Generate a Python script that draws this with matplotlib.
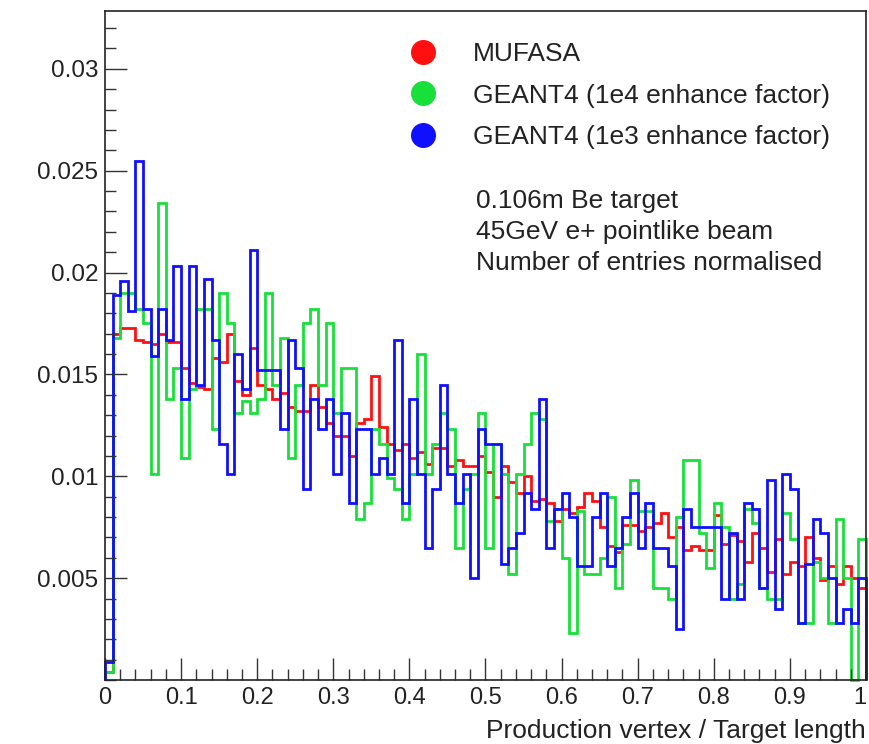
import numpy as np
import matplotlib
matplotlib.use("Agg")
import matplotlib.pyplot as plt
from matplotlib.lines import Line2D
from matplotlib.ticker import MultipleLocator, FixedLocator

# ---------------- data (100 bins on [0, 1]) ----------------
bin_edges = np.linspace(0.0, 1.0, 101)

mufasa = [
    0.0004, 0.0170, 0.0173, 0.0173, 0.0167, 0.0166, 0.0165, 0.0170, 0.0166, 0.0166,
    0.0153, 0.0146, 0.0144, 0.0143, 0.0158, 0.0156, 0.0170, 0.0147, 0.0140, 0.0163,
    0.0145, 0.0143, 0.0138, 0.0141, 0.0134, 0.0132, 0.0132, 0.0145, 0.0134, 0.0126,
    0.0120, 0.0120, 0.0110, 0.0126, 0.0128, 0.0149, 0.0124, 0.0116, 0.0113, 0.0116,
    0.0109, 0.0112, 0.0106, 0.0114, 0.0114, 0.0105, 0.0108, 0.0105, 0.0105, 0.0110,
    0.0102, 0.0090, 0.0105, 0.0097, 0.0092, 0.0100, 0.0088, 0.0089, 0.0087, 0.0078,
    0.0084, 0.0082, 0.0085, 0.0092, 0.0088, 0.0075, 0.0066, 0.0063, 0.0076, 0.0076,
    0.0073, 0.0075, 0.0077, 0.0082, 0.0070, 0.0075, 0.0064, 0.0066, 0.0064, 0.0064,
    0.0081, 0.0067, 0.0071, 0.0068, 0.0058, 0.0072, 0.0065, 0.0053, 0.0069, 0.0052,
    0.0058, 0.0056, 0.0070, 0.0060, 0.0049, 0.0056, 0.0047, 0.0056, 0.0050, 0.0045,
]

geant4_1e4 = [
    0.0004, 0.0168, 0.0190, 0.0190, 0.0182, 0.0175, 0.0101, 0.0234, 0.0138, 0.0153,
    0.0109, 0.0143, 0.0182, 0.0182, 0.0123, 0.0190, 0.0175, 0.0131, 0.0137, 0.0131,
    0.0138, 0.0190, 0.0145, 0.0168, 0.0109, 0.0145, 0.0175, 0.0182, 0.0145, 0.0175,
    0.0131, 0.0153, 0.0153, 0.0079, 0.0087, 0.0123, 0.0116, 0.0099, 0.0094, 0.0079,
    0.0101, 0.0160, 0.0101, 0.0116, 0.0131, 0.0123, 0.0065, 0.0094, 0.0101, 0.0131,
    0.0065, 0.0116, 0.0101, 0.0052, 0.0101, 0.0116, 0.0131, 0.0128, 0.0078, 0.0084,
    0.0060, 0.0023, 0.0083, 0.0052, 0.0052, 0.0060, 0.0090, 0.0045, 0.0067, 0.0098,
    0.0083, 0.0083, 0.0045, 0.0045, 0.0040, 0.0080, 0.0108, 0.0108, 0.0072, 0.0055,
    0.0087, 0.0075, 0.0040, 0.0047, 0.0084, 0.0077, 0.0045, 0.0040, 0.0040, 0.0082,
    0.0069, 0.0028, 0.0028, 0.0058, 0.0050, 0.0028, 0.0079, 0.0050, 0.0000, 0.0069,
]

geant4_1e3 = [
    0.0009, 0.0189, 0.0196, 0.0181, 0.0255, 0.0182, 0.0159, 0.0182, 0.0167, 0.0203,
    0.0138, 0.0203, 0.0145, 0.0197, 0.0167, 0.0116, 0.0101, 0.0160, 0.0143, 0.0211,
    0.0152, 0.0152, 0.0152, 0.0123, 0.0167, 0.0153, 0.0094, 0.0138, 0.0123, 0.0138,
    0.0101, 0.0131, 0.0087, 0.0123, 0.0123, 0.0101, 0.0109, 0.0101, 0.0167, 0.0087,
    0.0138, 0.0101, 0.0065, 0.0094, 0.0145, 0.0101, 0.0087, 0.0101, 0.0050, 0.0123,
    0.0116, 0.0116, 0.0057, 0.0065, 0.0072, 0.0092, 0.0084, 0.0138, 0.0065, 0.0084,
    0.0092, 0.0080, 0.0056, 0.0056, 0.0080, 0.0092, 0.0056, 0.0065, 0.0080, 0.0092,
    0.0065, 0.0087, 0.0065, 0.0065, 0.0056, 0.0025, 0.0084, 0.0075, 0.0075, 0.0075,
    0.0075, 0.0040, 0.0072, 0.0040, 0.0087, 0.0084, 0.0045, 0.0098, 0.0035, 0.0101,
    0.0094, 0.0028, 0.0057, 0.0079, 0.0072, 0.0050, 0.0028, 0.0035, 0.0028, 0.0050,
]

series_labels = ["MUFASA", "GEANT4 (1e4 enhance factor)", "GEANT4 (1e3 enhance factor)"]
series_colors = ["#ff1010", "#18e03a", "#1010ff"]

x_ticks = [0, 0.1, 0.2, 0.3, 0.4, 0.5, 0.6, 0.7, 0.8, 0.9, 1]
x_ticklabels = ["0", "0.1", "0.2", "0.3", "0.4", "0.5", "0.6", "0.7", "0.8", "0.9", "1"]
y_ticks = [0.005, 0.01, 0.015, 0.02, 0.025, 0.03]
y_ticklabels = ["0.005", "0.01", "0.015", "0.02", "0.025", "0.03"]

info_lines = ["0.106m Be target", "45GeV e+ pointlike beam", "Number of entries normalised"]
x_title = "Production vertex / Target length"

# ---------------- figure ----------------
W, H = 870, 744
fig = plt.figure(figsize=(W / 100, H / 100), dpi=100)
fig.patch.set_facecolor("white")

left, right, top, bottom = 105, 866.0, 11, 680
ax = fig.add_axes([left / W, 1 - bottom / H, (right - left) / W, (bottom - top) / H])

FONT = ["Liberation Sans", "DejaVu Sans"]

for vals, col in zip([mufasa, geant4_1e4, geant4_1e3], series_colors):
    ax.stairs(vals, bin_edges, baseline=0, color=col, linewidth=2.0, clip_on=False)

ax.set_xlim(0, 1)
ax.set_ylim(0, 0.03284)

for s in ax.spines.values():
    s.set_linewidth(1.2)
    s.set_color("#222222")

ax.xaxis.set_major_locator(FixedLocator(x_ticks))
ax.xaxis.set_minor_locator(MultipleLocator(0.02))
ax.yaxis.set_major_locator(FixedLocator(y_ticks))
ax.yaxis.set_minor_locator(MultipleLocator(0.001))
ax.set_xticklabels(x_ticklabels, fontfamily=FONT, fontsize=17, color="#222222")
ax.set_yticklabels(y_ticklabels, fontfamily=FONT, fontsize=17.5, color="#222222")
# keep the last x label inside the canvas
xt = ax.get_xticklabels()
xt[-1].set_horizontalalignment("right")

ax.tick_params(axis="both", which="major", direction="in", length=16, width=1.0,
               color="#333333", top=False, right=False)
ax.tick_params(axis="both", which="minor", direction="in", length=8, width=1.0,
               color="#333333", top=False, right=False)
ax.tick_params(axis="x", which="major", pad=5)
ax.tick_params(axis="y", which="major", pad=5)

ax.set_xlabel(x_title, fontfamily=FONT, fontsize=19, color="#222222",
              loc="right", labelpad=7)

# legend
handles = [Line2D([], [], linestyle="none", marker="o", markersize=17,
                  markerfacecolor=c, markeredgecolor=c) for c in series_colors]
leg = ax.legend(handles, series_labels, loc="upper left",
                bbox_to_anchor=(410 / W, 1 - 42 / H), bbox_transform=fig.transFigure,
                frameon=False, prop={"family": FONT, "size": 19},
                handlelength=1.0, handletextpad=1.37, labelspacing=0.67,
                borderpad=0, borderaxespad=0)
for t in leg.get_texts():
    t.set_color("#222222")

# info text
for i, line in enumerate(info_lines):
    fig.text(476 / W, 1 - (208 + 30.8 * i) / H, line, fontfamily=FONT, fontsize=19,
             color="#222222", ha="left", va="baseline")

fig.savefig("out.png", dpi=100, facecolor="white")
